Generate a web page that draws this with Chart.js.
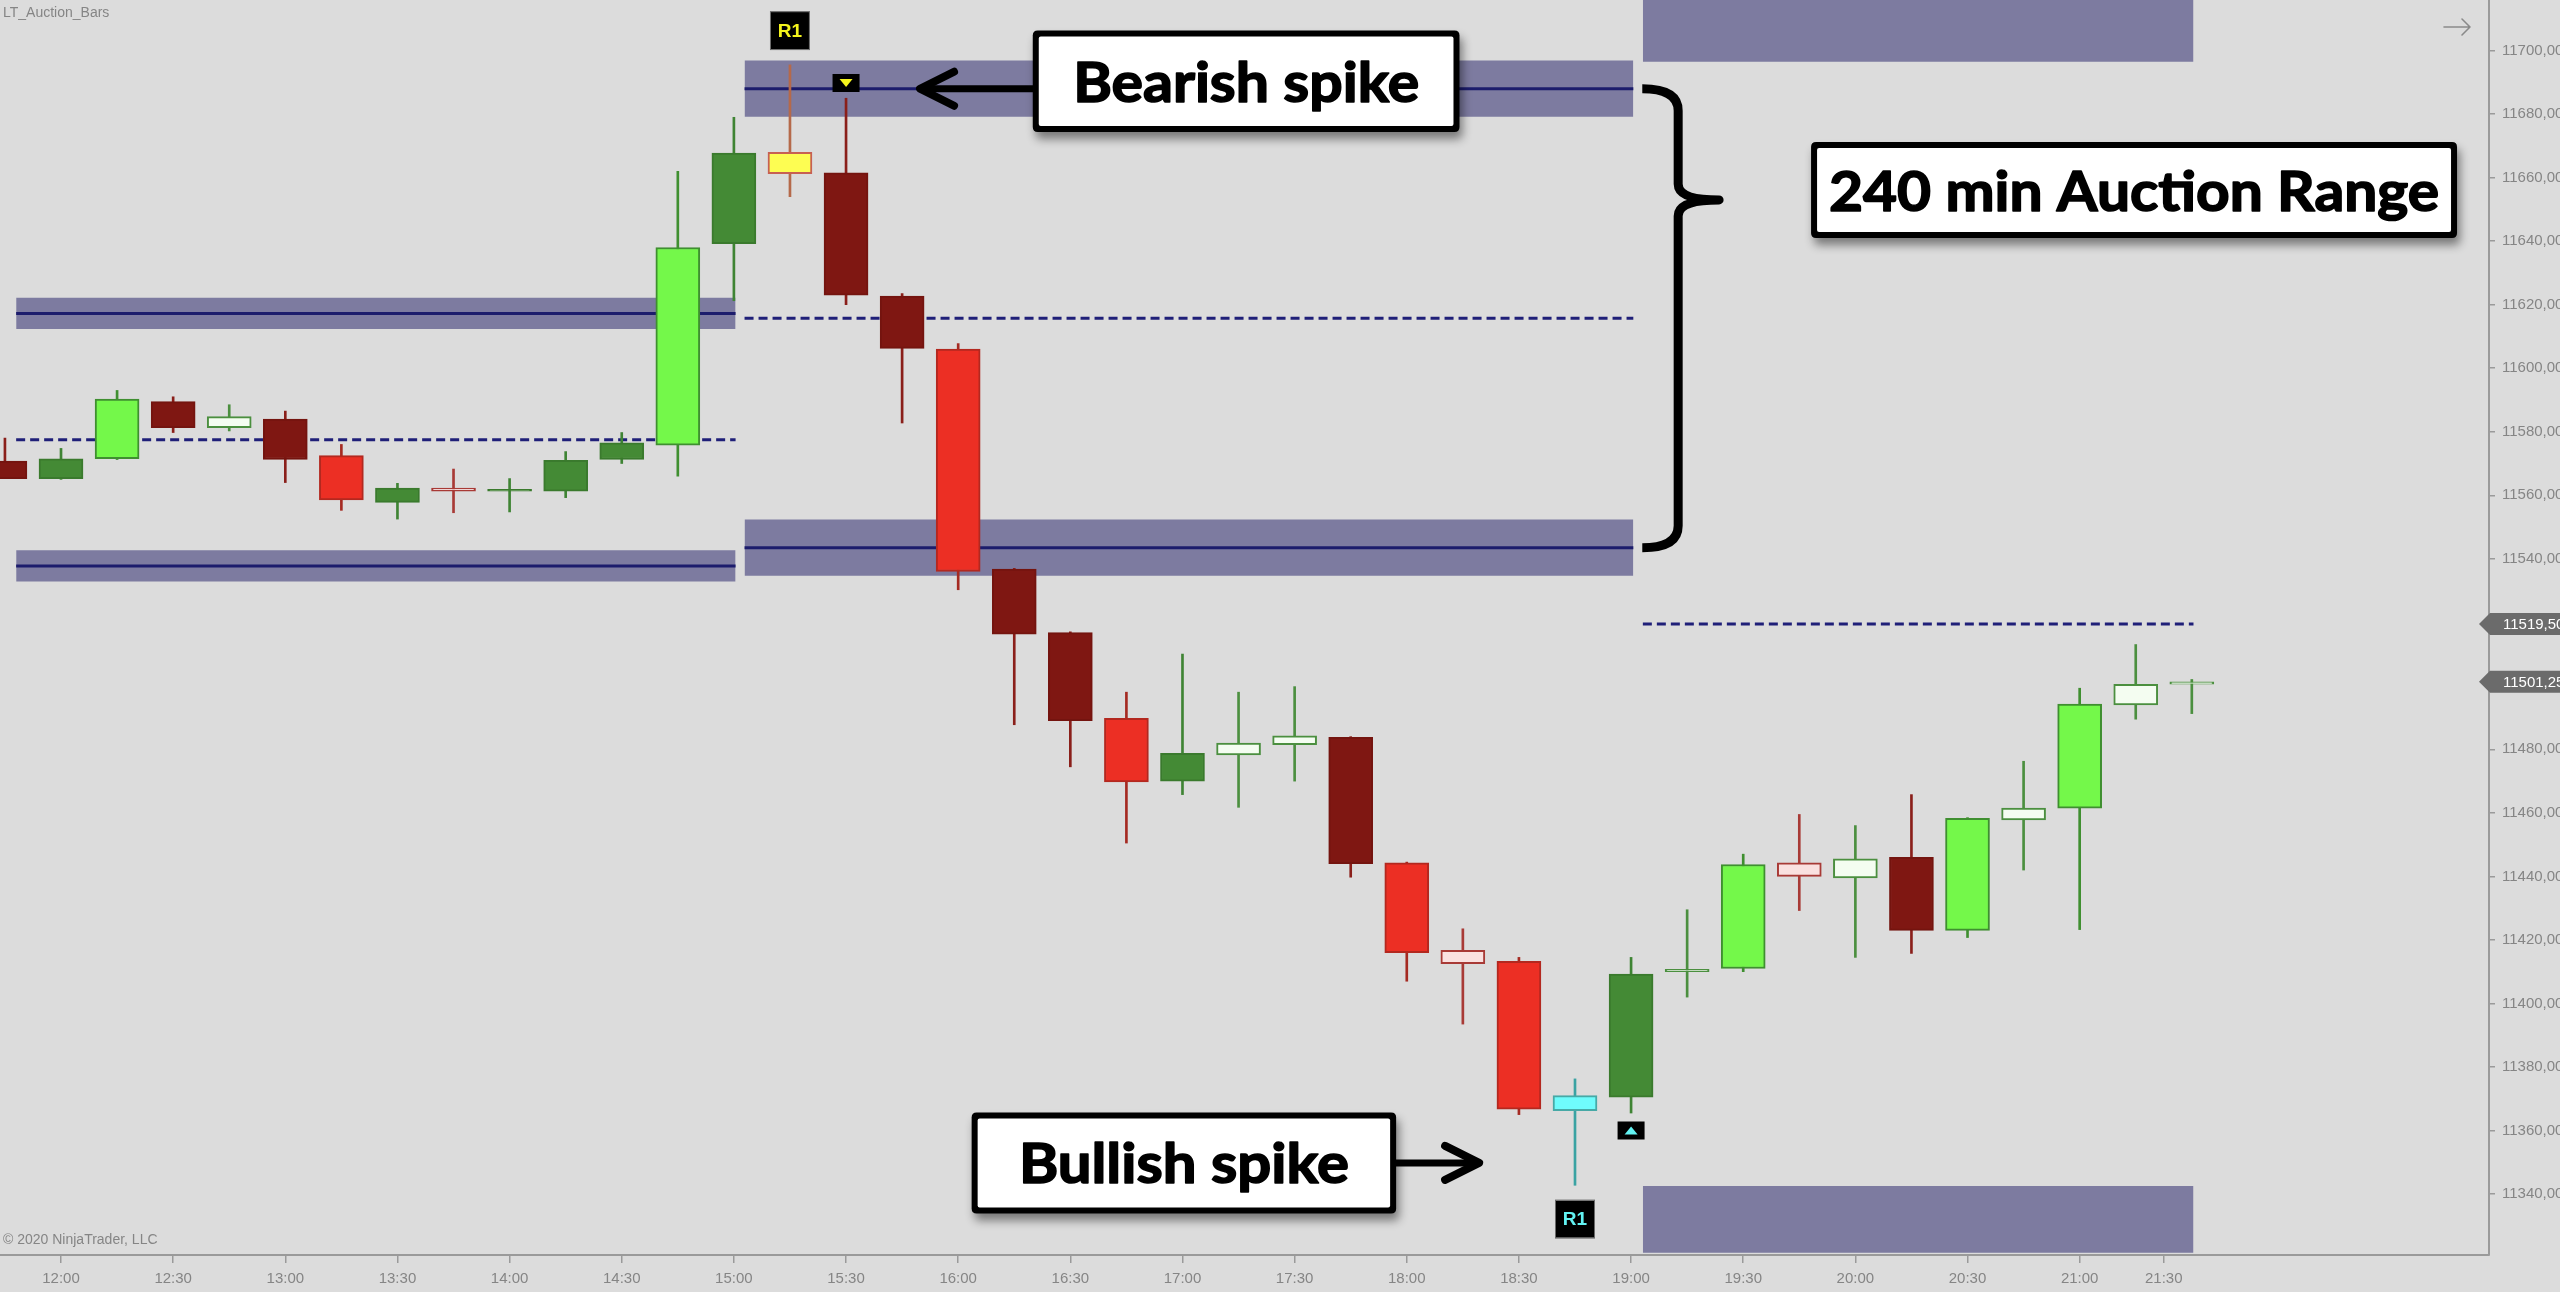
<!DOCTYPE html>
<html>
<head>
<meta charset="utf-8">
<script src="https://cdn.jsdelivr.net/npm/chart.js@4/dist/chart.umd.min.js"></script>
<style>
html,body{margin:0;padding:0;background:#dcdcdc;overflow:hidden}
canvas{display:block}
</style>
</head>
<body>
<canvas id="c" width="2560" height="1292" style="width:2560px;height:1292px"></canvas>
<script>
// ---------- DATA ----------
const barTimes = ['11:45','12:00','12:15','12:30','12:45','13:00','13:15','13:30','13:45','14:00',
  '14:15','14:30','14:45','15:00','15:15','15:30','15:45','16:00','16:15','16:30',
  '16:45','17:00','17:15','17:30','17:45','18:00','18:15','18:30','18:45','19:00',
  '19:15','19:30','19:45','20:00','20:15','20:30','20:45','21:00','21:15','21:30'];
const opens = [11570.75,11565.25,11571.5,11589.5,11581.25,11584,11572.5,11557.75,11562.25,11561.25,
  11561.25,11571.25,11575.75,11639.25,11668,11661.5,11622.75,11606,11536.75,11516.75,
  11489.75,11470,11478.25,11481.5,11483.75,11444.25,11416.75,11413.25,11366.25,11370.5,
  11410,11411,11444.25,11439.5,11446,11423,11457.75,11461.5,11494,11500.5];
const highs = [11578,11574.75,11593,11591,11588.5,11586.5,11576,11563.75,11568.25,11565.25,
  11573.75,11579.75,11662,11679,11695.5,11685,11623.5,11607.75,11537,11517,
  11498,11510,11498,11499.75,11484,11444.5,11423.5,11414.5,11376.25,11414.5,
  11429.5,11447,11459.5,11456,11465.75,11458.5,11476.25,11499.25,11513,11502];
const lows = [11565.25,11565,11571.25,11579.75,11580.25,11564,11555.25,11552.5,11554.5,11554.75,
  11559.25,11570,11566,11621.25,11654,11620,11582.75,11530.25,11487.75,11474.5,
  11450.5,11465.75,11461.75,11470,11439.75,11407,11393.5,11365,11342.75,11365.5,
  11402,11410,11429.25,11414.5,11415.75,11420.75,11442,11423.25,11489.5,11491.25];
const closes = [11565.25,11571.5,11590.25,11581.25,11584.75,11571.25,11558.5,11562.25,11561.25,11561.5,
  11571,11576.5,11638,11667.75,11661.25,11623,11606.25,11536,11516.25,11489,
  11469.75,11478.75,11482,11484.25,11444,11416,11412.5,11366.75,11371,11409.25,
  11410.75,11443.75,11440,11445.5,11423,11458.25,11461.5,11494.25,11500.5,11501.25];
// bar class: DR dark red, DG dark green, BG bright green, BR bright red,
// WG hollow green, PR hollow red, Y bearish spike, C bullish spike
const barClass = ['DR','DG','BG','DR','WG','DR','BR','DG','PR','DG',
  'DG','DG','BG','DG','Y','DR','DR','BR','DR','DR',
  'BR','DG','WG','WG','DR','BR','PR','BR','C','DG',
  'WG','BG','PR','WG','DR','BG','WG','BG','WG','WG'];

// 240 min auction ranges (bar-index span, high level, low level, band half-height)
const rangeStart = [0.2, 13.19, 29.21];
const rangeEnd   = [13.03, 29.04, 39.03];
const rangeHigh  = [11617.25, 11688, 11707];
const rangeLow   = [11537.75, 11543.5, 11332];
const rangeBand  = [4.9, 8.85, 10.5];
const rangeLines = [true, true, false];

const xTickPos    = [1,3,5,7,9,11,13,15,17,19,21,23,25,27,29,31,33,35,37,38.5];
const xTickLabels = ['12:00','12:30','13:00','13:30','14:00','14:30','15:00','15:30','16:00','16:30',
  '17:00','17:30','18:00','18:30','19:00','19:30','20:00','20:30','21:00','21:30'];
const yTickValues = [11340,11360,11380,11400,11420,11440,11460,11480,
  11540,11560,11580,11600,11620,11640,11660,11680,11700];
const priceMarkers = [11519.5, 11501.25];

// ---------- STYLE ----------
const bodyFill = {DR:'#7f1712',DG:'#448a35',BG:'#74f84a',BR:'#ec2f24',WG:'#f4fdf1',PR:'#fae1e0',Y:'#fdfd52',C:'#6ffcfc'};
const bodyEdge = {DR:'#74140f',DG:'#3a7a2d',BG:'#3f8f30',BR:'#b3281f',WG:'#4b8f3f',PR:'#a83a36',Y:'#c76052',C:'#47a9a6'};
const wickCol  = {DR:'#8a1f1a',DG:'#3f8434',BG:'#3f8f30',BR:'#a52a22',WG:'#4b8f3f',PR:'#a83a36',Y:'#b5694a',C:'#3aa3a3'};
const BAND = '#7d7ba0', LEVEL = '#1c1c6c', MID = '#1f1f78';
const GRAY_TXT = '#858585', AXIS = '#9a9a9a';
const X_MIN = -0.088, X_MAX = 44.3, Y_MIN = 11320.8, Y_MAX = 11715.93;

Chart.defaults.font.family = "'Liberation Sans', Arial, sans-serif";

const datasets = [];
datasets.push({
  type:'bar', label:'body',
  data: opens.map((o,i)=>({x:i, y:[o, closes[i]]})),
  backgroundColor: barClass.map(k=>bodyFill[k]),
  borderColor: barClass.map(k=>bodyEdge[k]),
  borderWidth: 2, borderSkipped: false, grouped: false,
  barPercentage: 1, categoryPercentage: 1, barThickness: 44, maxBarThickness: 44,
  minBarLength: 2, order: 1
});
datasets.push({
  type:'bar', label:'wick',
  data: lows.map((l,i)=>({x:i, y:[l, highs[i]]})),
  backgroundColor: barClass.map(k=>wickCol[k]),
  borderWidth: 0, grouped: false,
  barPercentage: 1, categoryPercentage: 1, barThickness: 2, maxBarThickness: 2,
  order: 2
});
function seg(a,b,v){ return [{x:a,y:v},{x:b,y:v}]; }
for (let s=0; s<rangeStart.length; s++){
  const a=rangeStart[s], b=rangeEnd[s], h=rangeBand[s];
  [rangeHigh[s], rangeLow[s]].forEach(lv=>{
    datasets.push({type:'line', data:seg(a,b,lv+h), borderColor:'rgba(0,0,0,0)', borderWidth:1,
      pointRadius:0, fill:'+1', backgroundColor:BAND, order:10});
    datasets.push({type:'line', data:seg(a,b,lv-h), borderColor:'rgba(0,0,0,0)', borderWidth:1,
      pointRadius:0, fill:false, order:10});
  });
  if (rangeLines[s]) {
    [rangeHigh[s], rangeLow[s]].forEach(lv=>{
      datasets.push({type:'line', data:seg(a,b,lv), borderColor:LEVEL, borderWidth:3,
        pointRadius:0, fill:false, order:5});
    });
  }
  datasets.push({type:'line', data:seg(a,b,(rangeHigh[s]+rangeLow[s])/2), borderColor:MID, borderWidth:3,
    borderDash:[9,5], pointRadius:0, fill:false, order:5});
}

// ---------- ANNOTATIONS (data coordinates) ----------
const notes = {
  bearish: {x0:18.33, x1:25.94, yTop:11706.3, yBot:11674.4, text:'Bearish spike', textW:346},
  range:   {x0:32.21, x1:43.73, yTop:11671.2, yBot:11641.0, text:'240 min Auction Range', textW:610},
  bullish: {x0:17.24, x1:24.81, yTop:11365.7, yBot:11333.9, text:'Bullish spike', textW:330},
  bearArrow: {from:18.33, tip:16.32, y:11688, dir:-1},
  bullArrow: {from:24.81, tip:26.29, y:11349.8, dir:1},
  brace: {xArm:29.2, xStem:29.84, xTip:30.57, yTop:11688, yTip:11653, yBot:11543.5},
  r1: [{x:14, y:11706.3, color:'#f4f41c'}, {x:28, y:11332.1, color:'#62f2f2'}],
  tri: [{x:15, y:11689.8, dir:'down', color:'#f4f41c'}, {x:29, y:11360, dir:'up', color:'#62f2f2'}]
};

function rr(ctx,x,y,w,h,r){
  ctx.beginPath(); ctx.moveTo(x+r,y); ctx.lineTo(x+w-r,y); ctx.quadraticCurveTo(x+w,y,x+w,y+r);
  ctx.lineTo(x+w,y+h-r); ctx.quadraticCurveTo(x+w,y+h,x+w-r,y+h); ctx.lineTo(x+r,y+h);
  ctx.quadraticCurveTo(x,y+h,x,y+h-r); ctx.lineTo(x,y+r); ctx.quadraticCurveTo(x,y,x+r,y); ctx.closePath();
}
function fittedText(ctx, text, cx, cy, capH, targetW){
  ctx.save();
  ctx.font = "bold 100px Lato, 'Open Sans', sans-serif";
  const capRatio = (ctx.measureText('H').actualBoundingBoxAscent || 72)/100;
  const size = capH / capRatio;
  ctx.font = "bold " + size.toFixed(1) + "px Lato, 'Open Sans', sans-serif";
  const w = ctx.measureText(text).width;
  ctx.translate(cx, cy + capH/2);
  ctx.scale(targetW / w, 1);
  ctx.textAlign = 'left'; ctx.textBaseline = 'alphabetic'; ctx.fillStyle = '#000';
  ctx.strokeStyle = '#000'; ctx.lineWidth = 1.6; ctx.lineJoin = 'round';
  ctx.fillText(text, -w/2, 0);
  ctx.strokeText(text, -w/2, 0);
  ctx.restore();
}

const bgPlugin = {
  id:'bg',
  beforeDraw(chart){
    const c = chart.ctx; c.save(); c.fillStyle = '#dcdcdc'; c.fillRect(0,0,chart.width,chart.height); c.restore();
  }
};

const overlay = {
  id:'overlay',
  afterDraw(chart){
    const ctx = chart.ctx, xs = chart.scales.x, ys = chart.scales.y;
    const X = v=>xs.getPixelForValue(v), Y = v=>ys.getPixelForValue(v);
    const area = chart.chartArea;

    // titles
    ctx.save();
    ctx.fillStyle = GRAY_TXT; ctx.font = "14px 'Liberation Sans', Arial, sans-serif";
    ctx.textAlign='left'; ctx.textBaseline='alphabetic';
    ctx.fillText('LT_Auction_Bars', 3, 17);
    ctx.fillText('\u00A9 2020 NinjaTrader, LLC', 3, 1244);
    // top-right arrow glyph
    ctx.strokeStyle = '#8a8a8a'; ctx.lineWidth = 1.6; ctx.lineCap='round'; ctx.lineJoin='round';
    ctx.beginPath(); ctx.moveTo(2444,27); ctx.lineTo(2470,27); ctx.moveTo(2462,19); ctx.lineTo(2470,27); ctx.lineTo(2462,35); ctx.stroke();
    ctx.restore();

    // arrows
    [notes.bearArrow, notes.bullArrow].forEach(a=>{
      const xf = X(a.from), xt = X(a.tip), y = Y(a.y);
      ctx.save(); ctx.strokeStyle='#000'; ctx.lineCap='round'; ctx.lineJoin='round';
      ctx.lineWidth = 7; ctx.beginPath(); ctx.moveTo(xf, y); ctx.lineTo(xt - a.dir*4, y); ctx.stroke();
      ctx.lineWidth = 8; ctx.beginPath();
      ctx.moveTo(xt - a.dir*34, y-17); ctx.lineTo(xt, y); ctx.lineTo(xt - a.dir*34, y+17); ctx.stroke();
      ctx.restore();
    });

    // text boxes
    [notes.bearish, notes.range, notes.bullish].forEach(b=>{
      const x0=X(b.x0), x1=X(b.x1), y0=Y(b.yTop), y1=Y(b.yBot);
      ctx.save();
      ctx.shadowColor='rgba(0,0,0,0.45)'; ctx.shadowBlur=10; ctx.shadowOffsetX=3; ctx.shadowOffsetY=7;
      ctx.fillStyle='#000'; rr(ctx,x0,y0,x1-x0,y1-y0,5); ctx.fill();
      ctx.restore();
      ctx.save();
      ctx.fillStyle='#ffffff'; rr(ctx,x0+6,y0+6,x1-x0-12,y1-y0-12,2); ctx.fill();
      ctx.restore();
      fittedText(ctx, b.text, (x0+x1)/2, (y0+y1)/2, 41, b.textW);
    });

    // brace
    const br = notes.brace;
    const xa=X(br.xArm), xv=X(br.xStem), xt=X(br.xTip), yt=Y(br.yTop), yp=Y(br.yTip), yb=Y(br.yBot);
    ctx.save(); ctx.strokeStyle='#000'; ctx.lineWidth=9; ctx.lineCap='butt'; ctx.lineJoin='round';
    ctx.beginPath();
    ctx.moveTo(xa, yt);
    ctx.quadraticCurveTo(xv, yt, xv, yt+22);
    ctx.lineTo(xv, yp-16);
    ctx.quadraticCurveTo(xv, yp, xt, yp);
    ctx.quadraticCurveTo(xv, yp, xv, yp+16);
    ctx.lineTo(xv, yb-22);
    ctx.quadraticCurveTo(xv, yb, xa, yb);
    ctx.stroke();
    ctx.restore();

    // R1 labels
    notes.r1.forEach(m=>{
      const cx=X(m.x), cy=Y(m.y);
      ctx.save();
      ctx.fillStyle='#000'; ctx.fillRect(cx-19, cy-18.5, 38, 37);
      ctx.strokeStyle='#6a6a6a'; ctx.lineWidth=1; ctx.strokeRect(cx-19.5, cy-19, 39, 38);
      ctx.fillStyle=m.color; ctx.font="bold 19px 'Liberation Sans', Arial, sans-serif";
      ctx.textAlign='center'; ctx.textBaseline='middle'; ctx.fillText('R1', cx, cy+1);
      ctx.restore();
    });
    // spike triangles
    notes.tri.forEach(m=>{
      const cx=X(m.x), cy=Y(m.y);
      ctx.save();
      ctx.fillStyle='#000'; ctx.fillRect(cx-13.5, cy-9, 27, 18);
      ctx.fillStyle=m.color; ctx.beginPath();
      if (m.dir==='down'){ ctx.moveTo(cx-6.5, cy-4); ctx.lineTo(cx+6.5, cy-4); ctx.lineTo(cx, cy+4); }
      else { ctx.moveTo(cx-6.5, cy+4); ctx.lineTo(cx+6.5, cy+4); ctx.lineTo(cx, cy-4); }
      ctx.closePath(); ctx.fill();
      ctx.restore();
    });

    // price tags
    const ax = area.right, W = chart.width;
    priceMarkers.forEach(v=>{
      const y = Y(v);
      ctx.save();
      ctx.fillStyle='#6b6b6b'; ctx.beginPath();
      ctx.moveTo(ax-10, y); ctx.lineTo(ax+1, y-11); ctx.lineTo(W, y-11); ctx.lineTo(W, y+11); ctx.lineTo(ax+1, y+11);
      ctx.closePath(); ctx.fill();
      ctx.fillStyle='#ffffff'; ctx.font="15px 'Liberation Sans', Arial, sans-serif";
      ctx.textAlign='left'; ctx.textBaseline='middle';
      ctx.fillText(v.toFixed(2).replace('.', ','), ax+14, y+1);
      ctx.restore();
    });
  }
};

new Chart(document.getElementById('c').getContext('2d'), {
  type:'bar',
  data:{ datasets },
  plugins:[bgPlugin, overlay],
  options:{
    responsive:false, animation:false, devicePixelRatio:1, events:[],
    layout:{ padding:0, autoPadding:false },
    plugins:{ legend:{display:false}, tooltip:{enabled:false} },
    scales:{
      x:{
        type:'linear', position:'bottom', min:X_MIN, max:X_MAX, offset:false,
        grid:{ display:true, drawOnChartArea:false, drawTicks:true, tickLength:8, color:AXIS, offset:false, lineWidth:1.5 },
        border:{ display:true, color:AXIS, width:2 },
        ticks:{ autoSkip:false, maxRotation:0, minRotation:0, color:GRAY_TXT, padding:7,
          font:{ size:15 }, callback:(v,i)=>xTickLabels[i] },
        afterBuildTicks:(s)=>{ s.ticks = xTickPos.map(v=>({value:v})); },
        afterFit:(s)=>{ s.height = 37; s.paddingLeft=0; s.paddingRight=0; s.paddingTop=0; s.paddingBottom=0; }
      },
      y:{
        type:'linear', position:'right', min:Y_MIN, max:Y_MAX,
        grid:{ display:true, drawOnChartArea:false, drawTicks:true, tickLength:6, color:AXIS, lineWidth:1.5 },
        border:{ display:true, color:AXIS, width:2 },
        ticks:{ color:GRAY_TXT, padding:7, font:{ size:15 }, callback:(v)=>Number(v).toFixed(2).replace('.', ',') },
        afterBuildTicks:(s)=>{ s.ticks = yTickValues.map(v=>({value:v})); },
        afterFit:(s)=>{ s.width = 71; s.paddingLeft=0; s.paddingRight=0; s.paddingTop=0; s.paddingBottom=0; }
      }
    }
  }
});
</script>
</body>
</html>
